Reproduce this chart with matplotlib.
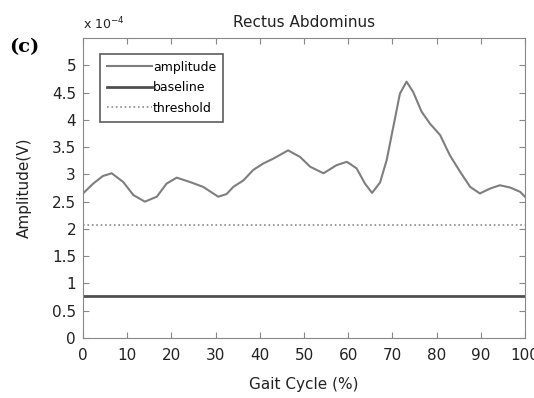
import matplotlib.pyplot as plt

plt.rcParams['font.family'] = ['DejaVu Sans']

# gait cycle (%) and amplitude (x 1e-4 V)
gait = [0, 2.3, 4.5, 6.5, 9.1, 11.4, 14.0, 16.7, 18.9, 21.2, 24.2, 27.2, 30.6,
        32.5, 34.0, 36.3, 38.5, 40.8, 43.1, 46.4, 49.1, 51.4, 54.4, 57.4,
        59.7, 61.9, 63.8, 65.4, 67.2, 68.7, 70.2, 71.7, 73.2, 74.7, 76.6,
        78.5, 80.8, 83.0, 85.3, 87.6, 89.8, 92.1, 94.3, 96.6, 98.9, 100]
amplitude = [2.65, 2.83, 2.97, 3.02, 2.86, 2.62, 2.50, 2.59, 2.83, 2.94, 2.86,
             2.77, 2.59, 2.64, 2.77, 2.89, 3.08, 3.20, 3.29, 3.44, 3.32, 3.14,
             3.02, 3.17, 3.23, 3.11, 2.83, 2.66, 2.85, 3.26, 3.87, 4.48, 4.70,
             4.51, 4.15, 3.93, 3.72, 3.35, 3.05, 2.77, 2.65, 2.74, 2.80, 2.76,
             2.68, 2.59]
baseline = 0.77
threshold = 2.08

fig = plt.figure(figsize=(5.34, 3.98), dpi=100)
ax = fig.add_axes([83 / 534, 1 - 338 / 398, 442 / 534, 300 / 398])

ax.plot(gait, amplitude, color='#7e7e7e', lw=1.5, label='amplitude')
ax.plot([0, 100], [baseline, baseline], color='#505050', lw=2.0, label='baseline')
ax.plot([0, 100], [threshold, threshold], color='#8a8a8a', lw=1.2, ls=':', label='threshold')

ax.set_xlim(0, 100)
ax.set_ylim(0, 5.5)
ax.set_xticks(range(0, 101, 10))
ax.set_yticks([0, 0.5, 1, 1.5, 2, 2.5, 3, 3.5, 4, 4.5, 5])
ax.set_yticklabels(['0', '0.5', '1', '1.5', '2', '2.5', '3', '3.5', '4', '4.5', '5'])
ax.tick_params(direction='in', top=True, right=True, labelsize=11,
               color='#888888', labelcolor='#222222', length=4)
ax.tick_params(axis='x', pad=7)
ax.tick_params(axis='y', pad=5)
for s in ax.spines.values():
    s.set_color('#888888')

ax.set_title('Rectus Abdominus', fontsize=11, color='#222222', pad=8)
ax.set_xlabel('Gait Cycle (%)', fontsize=11, color='#222222', labelpad=10)
ax.set_ylabel('Amplitude(V)', fontsize=11, color='#222222', labelpad=14)

fig.text(83 / 534, 1 - 24 / 398, r'x 10$^{-4}$', fontsize=9, color='#222222', va='center')
fig.text(9 / 534, 1 - 47 / 398, '(c)', fontsize=14, fontweight='bold',
         family='DejaVu Serif', va='center')

leg = ax.legend(loc='upper left', bbox_to_anchor=(0.038, 0.947), fontsize=9,
                frameon=True, fancybox=False, handlelength=3.6, handletextpad=0.1,
                borderpad=0.55, labelspacing=0.6, borderaxespad=0)
leg.get_frame().set_edgecolor('#333333')
leg.get_frame().set_linewidth(1.2)

fig.savefig('out.png', dpi=100)
